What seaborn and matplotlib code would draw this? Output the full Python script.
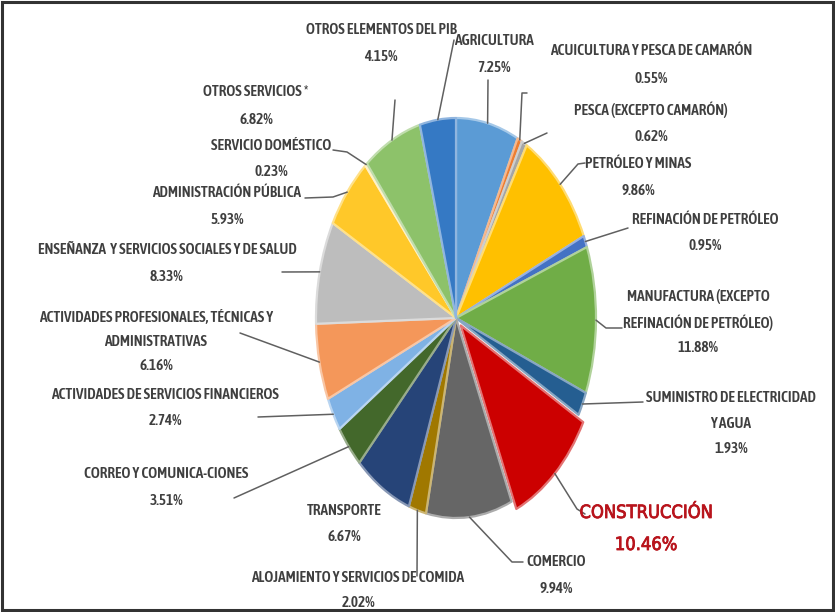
import numpy as np
import matplotlib
matplotlib.use("Agg")
import matplotlib.pyplot as plt
import matplotlib.colors as mcolors
import matplotlib.patheffects as pe
from matplotlib import font_manager
from matplotlib.font_manager import FontProperties
from matplotlib.patches import Rectangle
import seaborn as sns

# Sector shares of GDP (%), clockwise from 12 o'clock
sectors = [
    "AGRICULTURA",
    "ACUICULTURA Y PESCA DE CAMARÓN",
    "PESCA (EXCEPTO CAMARÓN)",
    "PETRÓLEO Y MINAS",
    "REFINACIÓN DE PETRÓLEO",
    "MANUFACTURA (EXCEPTO\nREFINACIÓN DE PETRÓLEO)",
    "SUMINISTRO DE ELECTRICIDAD\nY AGUA",
    "CONSTRUCCIÓN",
    "COMERCIO",
    "ALOJAMIENTO Y SERVICIOS DE COMIDA",
    "TRANSPORTE",
    "CORREO Y COMUNICA-CIONES",
    "ACTIVIDADES DE SERVICIOS FINANCIEROS",
    "ACTIVIDADES PROFESIONALES, TÉCNICAS Y\nADMINISTRATIVAS",
    "ENSEÑANZA  Y SERVICIOS SOCIALES Y DE SALUD",
    "ADMINISTRACIÓN PÚBLICA",
    "SERVICIO DOMÉSTICO",
    "OTROS SERVICIOS *",
    "OTROS ELEMENTOS DEL PIB",
]
shares = [7.25, 0.55, 0.62, 9.86, 0.95, 11.88, 1.93, 10.46, 9.94, 2.02,
          6.67, 3.51, 2.74, 6.16, 8.33, 5.93, 0.23, 6.82, 4.15]
sector_colors = [
    "#5B9BD5", "#ED7D31", "#A5A5A5", "#FFC000", "#4472C4", "#70AD47",
    "#255E91", "#CC0000", "#666666", "#A07800", "#264478", "#43682B",
    "#7FB2E5", "#F4975A", "#BDBDBD", "#FFC829", "#FFE699", "#8DC26A",
    "#3579C4",
]
highlight = "CONSTRUCCIÓN"

# ---- layout (pixel space of an 835 x 612 canvas) ----
W, H = 835, 612
CX, CY, RX, RY = 456, 318, 140, 200

# label anchor: centre x, first-line y, line step
label_pos = [
    (494, 41, 27), (651, 51, 28), (651, 110, 27), (638, 164, 27),
    (705, 220, 26), (698, 297, 25.5), (731, 398, 25.5), (646, 513, 32),
    (556, 562, 27), (358, 578, 25), (344, 511, 26), (166, 474, 27),
    (165, 395, 26), (156, 317, 24.5), (167, 250, 27), (227, 193, 27),
    (271, 146, 26), (256, 92, 28), (381, 30, 27),
]
# leader line waypoints after the wedge anchor (None = no leader)
leaders = [
    [(488, 80)],
    [(522, 93), (527, 93)],
    [(547, 133)],
    [(578, 164), (585, 163)],
    [(628, 228)],
    [(606, 328), (622, 328)],
    [(643, 402)],
    [(577, 509), (585, 514)],
    [(512, 562), (523, 562)],
    [(417, 576)],
    None,
    [(234, 498)],
    [(258, 417)],
    [(240, 333)],
    [(282, 272)],
    [(333, 197), (305, 198)],
    [(347, 152), (333, 150)],
    [(395, 100)],
    [(454, 40)],
]


def to_data(px, py):
    return (px - CX) / RX, (CY - py) / RY


sns.set_theme(style="white")

# pick condensed sans faces (regular + bold) for the crowded labels
narrow = [f for f in font_manager.fontManager.ttflist
          if ("Narrow" in f.name or "Condensed" in f.name
              or f.stretch in ("condensed", "semi-condensed", "extra-condensed"))
          and "Mono" not in f.name and "Serif" not in f.name
          and f.style == "normal"]


def wnum(f):
    w = f.weight
    if isinstance(w, str):
        w = font_manager.weight_dict.get(w, 400)
    return w


bold_faces = sorted([f for f in narrow if wnum(f) >= 600], key=lambda f: wnum(f))
reg_faces = sorted([f for f in narrow if wnum(f) < 600], key=lambda f: abs(wnum(f) - 400))
fake_bold = False
if bold_faces:
    bold_file = bold_faces[0].fname
elif reg_faces:
    bold_file = reg_faces[0].fname
    fake_bold = True
else:
    bold_file = font_manager.findfont(FontProperties(family="Liberation Sans", weight="bold"))
reg_file = reg_faces[0].fname if reg_faces else bold_file
plt.rcParams["font.family"] = ["DejaVu Sans"]

palette = sns.color_palette(sector_colors)

fig = plt.figure(figsize=(W / 100, H / 100), dpi=100)
ax = fig.add_axes([0, 0, 1, 1])

explode = [0.05 if s == highlight else 0.0 for s in sectors]
wedges, _ = ax.pie(shares, colors=palette, startangle=90, counterclock=False,
                   explode=explode, radius=1.0,
                   wedgeprops=dict(linewidth=1.6))
for w, c in zip(wedges, palette):
    light = tuple(np.array(mcolors.to_rgb(c)) * 0.55 + 0.45)
    w.set_edgecolor(light)
    w.set_joinstyle("round")

ax.set_aspect("auto")
ax.set_xlim((0 - CX) / RX, (W - CX) / RX)
ax.set_ylim((CY - H) / RY, CY / RY)
ax.axis("off")

# size the label font so a long label spans its usual width
probe = ax.text(0, 0, "ACTIVIDADES DE SERVICIOS FINANCIEROS",
                fontproperties=FontProperties(fname=bold_file, size=10))
fig.canvas.draw()
pw = probe.get_window_extent().width
probe.remove()
base_size = min(11.5, 10 * 228 / pw)

text_color = "#3F3F3F"
stroke = [pe.withStroke(linewidth=0.7, foreground=text_color)] if fake_bold else None
for w, name, val, pos, pts in zip(wedges, sectors, shares, label_pos, leaders):
    # leader from the wedge rim
    if pts is not None:
        theta = np.deg2rad((w.theta1 + w.theta2) / 2)
        cx0, cy0 = w.center
        xs = [cx0 + np.cos(theta)]
        ys = [cy0 + np.sin(theta)]
        for px, py in pts:
            dx, dy = to_data(px, py)
            xs.append(dx)
            ys.append(dy)
        ax.plot(xs, ys, color="#606060", lw=1.1, solid_capstyle="round", zorder=1)

    is_hl = name == highlight
    lines = name.split("\n") + [f"{val:.2f}%"]
    x0, y0, step = pos
    for i, ln in enumerate(lines):
        tx, ty = to_data(x0, y0 + i * step)
        if is_hl:
            fp = FontProperties(fname=reg_file, size=base_size * 1.2)
            ax.text(tx, ty, ln, ha="center", va="center", fontproperties=fp,
                    color="#B8141C",
                    path_effects=[pe.withStroke(linewidth=0.6, foreground="#B8141C")])
        else:
            fp = FontProperties(fname=bold_file, size=base_size)
            ax.text(tx, ty, ln, ha="center", va="center", fontproperties=fp,
                    color=text_color, path_effects=stroke)

fig.patches.append(Rectangle((2 / W, 2 / H), (W - 4) / W, (H - 4) / H,
                             transform=fig.transFigure, fill=False,
                             edgecolor="#333333", linewidth=2.2))

fig.savefig("out.png", dpi=100, facecolor="white")
